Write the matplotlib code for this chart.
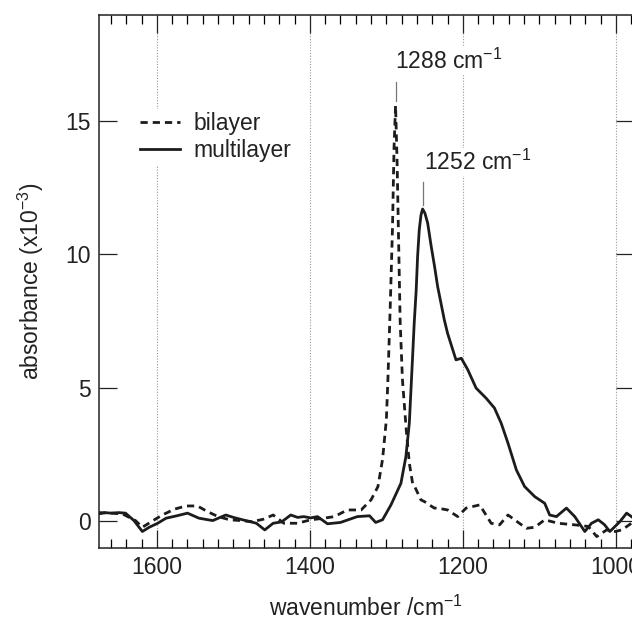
import matplotlib
matplotlib.use("Agg")
import matplotlib.pyplot as plt
from matplotlib.ticker import MultipleLocator

plt.rcParams['font.family'] = ['Liberation Sans', 'DejaVu Sans']
plt.rcParams['mathtext.fontset'] = 'custom'
plt.rcParams['mathtext.rm'] = 'Liberation Sans'
plt.rcParams['mathtext.it'] = 'Liberation Sans:italic'
plt.rcParams['mathtext.bf'] = 'Liberation Sans:bold'
plt.rcParams['mathtext.sf'] = 'Liberation Sans'

# multilayer (solid)
multi_x = [1676, 1668, 1660, 1650, 1641, 1630, 1619, 1610, 1599, 1588, 1574, 1560, 1545, 1527, 1510,
           1500, 1488, 1470, 1459, 1448, 1437, 1425, 1416, 1408, 1399, 1390, 1377, 1360,
           1348, 1338, 1322, 1314, 1305, 1294, 1281, 1274.5, 1270, 1265.7, 1263.6, 1261, 1259.2,
           1257, 1254.7, 1252.6, 1249.6, 1246, 1241.7, 1237, 1233, 1228.6, 1224.3, 1220, 1209,
           1202, 1193.6, 1182.7, 1169.6, 1158.7,
           1149.9, 1141, 1130, 1119.3, 1106, 1093, 1086.5, 1077.7, 1064.6, 1053.7, 1040.6,
           1031.8, 1023, 1015, 1007.8, 994.7, 985.9, 976.7]
multi_y = [0.25, 0.3, 0.28, 0.3, 0.28, 0.0, -0.41, -0.25, -0.1, 0.09, 0.18, 0.28, 0.09, 0.0, 0.21,
           0.12, 0.03, -0.1, -0.35, -0.1, -0.05, 0.21, 0.12, 0.15, 0.1, 0.15, -0.12, -0.07,
           0.05, 0.15, 0.18, -0.07, 0.03, 0.59, 1.4, 2.4, 3.66, 6.17, 7.42, 8.67, 9.92,
           10.93, 11.49, 11.71, 11.55, 11.18, 10.36, 9.55, 8.8, 8.17, 7.55, 7.04, 6.04,
           6.1, 5.67, 4.98, 4.6, 4.23,
           3.66, 2.91, 1.9, 1.28, 0.9, 0.65, 0.21, 0.15, 0.47, 0.15, -0.41,
           -0.1, 0.03, -0.15, -0.41, -0.04, 0.28, 0.09]

# bilayer (dashed)
bi_x = [1676, 1660, 1645, 1628, 1619, 1605, 1593, 1577, 1562, 1547, 1534, 1520, 1505,
        1490, 1475, 1461, 1448, 1434, 1416, 1399, 1384, 1368, 1351, 1333, 1320, 1311,
        1305, 1300, 1298, 1295, 1292, 1290, 1288, 1286, 1284, 1282, 1279, 1274, 1270,
        1265.7, 1263, 1254.9, 1250, 1237.4, 1233, 1220, 1206.7, 1195.8, 1178, 1163, 1152,
        1141, 1132.4, 1117, 1106, 1093, 1075.5, 1053.7, 1036, 1025, 1012, 1001, 992, 976.7]
bi_y = [0.3, 0.28, 0.25, 0.0, -0.25, 0.0, 0.21, 0.43, 0.55, 0.55, 0.34, 0.15, 0.03,
        0.0, -0.04, 0.05, 0.21, -0.1, -0.1, 0.03, 0.08, 0.15, 0.4, 0.4, 0.78, 1.28,
        2.3, 3.8, 5.3, 8.0, 11.0, 14.0, 15.6, 13.5, 10.5, 7.5, 5.3, 3.4, 2.16,
        1.4, 1.28, 0.78, 0.71, 0.47, 0.47, 0.4, 0.15, 0.47, 0.59, -0.1, -0.16,
        0.21, 0.03, -0.29, -0.25, 0.03, -0.1, -0.16, -0.22, -0.6, -0.35, -0.41, -0.35, -0.04]

x_ticks = [1600, 1400, 1200, 1000]
y_ticks = [0, 5, 10, 15]

fig = plt.figure(figsize=(6.32, 6.29), dpi=100)
ax = fig.add_axes([99/632, 1-548/629, 1.003-99/632, (548-15)/629])

ink = '#1c1c1c'
ax.plot(bi_x, bi_y, color=ink, lw=2.0, ls=(0, (2.6, 1.8)), label='bilayer', zorder=3)
ax.plot(multi_x, multi_y, color=ink, lw=2.0, ls='-', label='multilayer', zorder=3)

ax.set_xlim(1675.7, 976.4)
ax.set_ylim(-1.03, 19.0)
ax.set_xticks(x_ticks)
ax.set_yticks(y_ticks)
ax.xaxis.set_minor_locator(MultipleLocator(20))
ax.tick_params(which='major', direction='in', length=13, width=0.9, top=True, right=True,
               labelsize=16.5, pad=6, colors='#222222')
ax.tick_params(which='minor', direction='in', length=6.5, width=0.9, top=True, right=False, left=False)
ax.tick_params(axis='y', which='minor', left=False, right=False)
for s in ax.spines.values():
    s.set_linewidth(1.1)
    s.set_color('#222222')

for xv in x_ticks:
    ax.axvline(xv, color='#999999', lw=0.8, ls=(0, (1, 1.5)), zorder=1)

ax.set_xlabel('wavenumber /cm$^{-1}$', fontsize=16.5, labelpad=12, color='#222222')
ax.set_ylabel('absorbance (x10$^{-3}$)', fontsize=16.5, labelpad=14, color='#222222')

# annotations
ax.plot([1288, 1288], [15.75, 16.5], color='#777777', lw=0.9, zorder=2)
ax.text(1289, 16.97, '1288 cm$^{-1}$', fontsize=16.5, ha='left', va='baseline', color='#222222',
        bbox=dict(facecolor='white', edgecolor='none', pad=1), zorder=2)
ax.plot([1252.5, 1252.5], [11.87, 12.74], color='#777777', lw=0.9, zorder=2)
ax.text(1250.5, 13.18, '1252 cm$^{-1}$', fontsize=16.5, ha='left', va='baseline', color='#222222',
        bbox=dict(facecolor='white', edgecolor='none', pad=1), zorder=2)

leg = ax.legend(loc='center left', bbox_to_anchor=(138/632, 1-137/629), bbox_transform=fig.transFigure,
                frameon=True, fontsize=16.5, handlelength=1.74, handletextpad=0.6,
                labelspacing=0.2, borderpad=0.1, borderaxespad=0)
leg.get_frame().set_facecolor('white')
leg.get_frame().set_edgecolor('none')
leg.get_frame().set_alpha(1)
for t in leg.get_texts():
    t.set_color('#222222')

fig.savefig('out.png', dpi=100)
